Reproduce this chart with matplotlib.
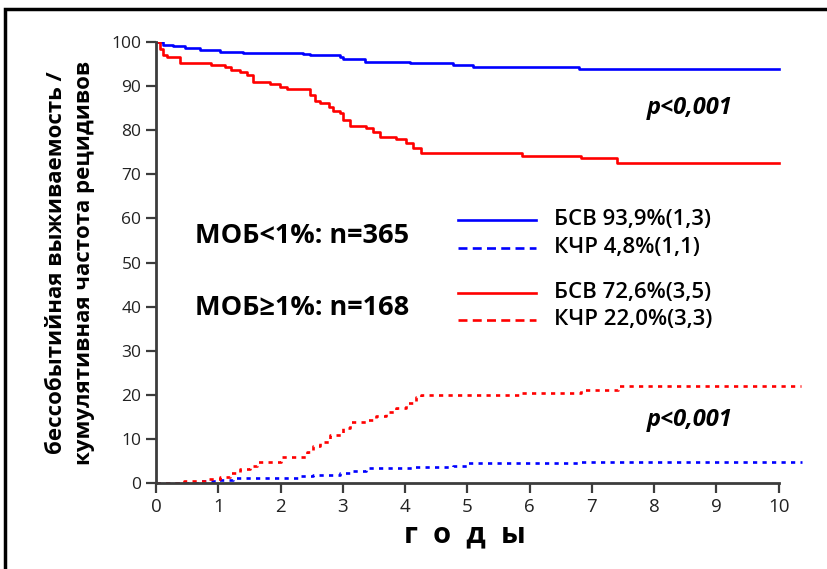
import matplotlib
matplotlib.use('Agg')
import matplotlib.pyplot as plt
from matplotlib.lines import Line2D
from matplotlib.patches import Rectangle

# данные кривых (годы / %)
t_efs_low = [0, 0.12, 0.28, 0.47, 0.71, 1.03, 1.40, 2.36, 2.47, 2.95, 3.0, 3.35, 4.08, 4.77, 5.09, 6.8, 10.0]
v_efs_low = [100, 99.3, 99.1, 98.6, 98.2, 97.8, 97.6, 97.3, 97.1, 96.7, 96.1, 95.5, 95.2, 94.8, 94.4, 93.9, 93.9]

t_efs_high = [0, 0.06, 0.12, 0.17, 0.39, 0.89, 1.11, 1.21, 1.35, 1.46, 1.56, 1.83, 1.99, 2.10, 2.47, 2.55,
              2.63, 2.77, 2.85, 2.95, 3.01, 3.11, 3.38, 3.49, 3.60, 3.86, 4.02, 4.13, 4.26, 5.88, 6.83, 7.40, 10.0]
v_efs_high = [100, 98.5, 97.0, 96.5, 95.3, 94.8, 94.3, 93.7, 93.1, 92.5, 91.0, 90.5, 89.9, 89.3, 88.0, 86.7,
              86.2, 85.2, 84.4, 83.8, 82.3, 81.0, 80.4, 79.7, 78.5, 78.0, 77.0, 75.9, 74.9, 74.2, 73.6, 72.6, 72.6]

t_cir_low = [0, 0.7, 0.97, 1.24, 1.4, 2.31, 2.52, 2.95, 3.17, 3.38, 4.13, 4.77, 4.99, 6.8, 10.38]
v_cir_low = [0, 0.4, 0.6, 1.06, 1.2, 1.6, 1.8, 2.3, 2.8, 3.3, 3.7, 3.85, 4.45, 4.8, 4.8]

t_cir_high = [0, 0.45, 0.81, 1.03, 1.19, 1.35, 1.51, 1.62, 2.0, 2.42, 2.52, 2.63, 2.79, 3.0, 3.11, 3.38,
              3.54, 3.7, 3.86, 4.02, 4.18, 4.26, 5.88, 6.83, 7.42, 10.35]
v_cir_high = [0, 0.5, 1.0, 1.3, 2.2, 3.1, 3.9, 4.8, 5.9, 7.1, 8.4, 9.4, 10.9, 12.4, 13.8, 14.3,
              15.2, 16.2, 16.9, 18.1, 19.4, 20.0, 20.5, 21.2, 22.0, 22.0]

legend_labels = ['БСВ 93,9%(1,3)', 'КЧР 4,8%(1,1)', 'БСВ 72,6%(3,5)', 'КЧР 22,0%(3,3)']
group_labels = ['МОБ<1%: n=365', 'МОБ≥1%: n=168']
x_ticks = list(range(0, 11))
y_ticks = list(range(0, 101, 10))

BLUE = '#0000ff'
RED = '#ff0000'
AX_COL = '#3c3c3c'

plt.rcParams['font.family'] = ['Open Sans', 'DejaVu Sans']

fig = plt.figure(figsize=(8.28, 5.69), dpi=100)
ax = fig.add_axes([0.1884, 0.1511, 0.786, 0.775])

# рамка вокруг рисунка
fig.patches.append(Rectangle((5 / 828, -0.1), 1.2, 1.1 - 9 / 569, transform=fig.transFigure,
                             fill=False, edgecolor='black', linewidth=2.5, zorder=0))

lw = 1.9
ax.step(t_efs_low, v_efs_low, where='post', color=BLUE, lw=lw)
ax.step(t_efs_high, v_efs_high, where='post', color=RED, lw=lw)
ax.step(t_cir_low, v_cir_low, where='post', color=BLUE, lw=lw, linestyle=(0, (1.6, 2.0)))
ax.step(t_cir_high, v_cir_high, where='post', color=RED, lw=lw, linestyle=(0, (1.6, 2.0)))

ax.set_xlim(0, 10.45)
ax.set_ylim(0, 100)
ax.spines['top'].set_visible(False)
ax.spines['right'].set_visible(False)
ax.spines['bottom'].set_bounds(0, 10)
for s in ['left', 'bottom']:
    ax.spines[s].set_color(AX_COL)
    ax.spines[s].set_linewidth(2)
ax.set_xticks(x_ticks)
ax.set_yticks(y_ticks)
ax.tick_params(direction='out', length=7, width=1.6, color=AX_COL, labelsize=12.5, labelcolor='#222222')
ax.tick_params(axis='x', pad=4, labelsize=13.5)

ax.set_ylabel('бессобытийная выживаемость /\nкумулятивная частота рецидивов',
              fontsize=16, fontweight='bold', linespacing=1.45, labelpad=12)
ax.set_xlabel('г  о  д  ы', fontsize=21, fontweight='bold', labelpad=4)
ax.xaxis.set_label_coords((465 - 156) / 650.8, -0.085)

# подписи групп
ax.text(0.06, 0.56, group_labels[0], transform=ax.transAxes, fontsize=19.5, fontweight='bold', va='center')
ax.text(0.06, 0.396, group_labels[1], transform=ax.transAxes, fontsize=19.5, fontweight='bold', va='center')

# легенда вручную
leg_y = [0.597, 0.534, 0.432, 0.370]
leg_c = [BLUE, BLUE, RED, RED]
leg_ls = ['-', (0, (3.4, 2.0)), '-', (0, (3.4, 2.0))]
for y, c, ls, lab in zip(leg_y, leg_c, leg_ls, legend_labels):
    ax.add_line(Line2D([0.464, 0.584], [y, y], transform=ax.transAxes, color=c, lw=lw, linestyle=ls))
    ax.text(0.611, y, lab, transform=ax.transAxes, fontsize=16, fontweight='semibold', va='center')

# p-значения
ax.text(0.8205, 0.850, 'p<0,001', transform=ax.transAxes, fontsize=17, fontweight='bold',
        style='italic', ha='center', va='center')
ax.text(0.8205, 0.143, 'p<0,001', transform=ax.transAxes, fontsize=17, fontweight='bold',
        style='italic', ha='center', va='center')

fig.savefig('out.png', dpi=100)
